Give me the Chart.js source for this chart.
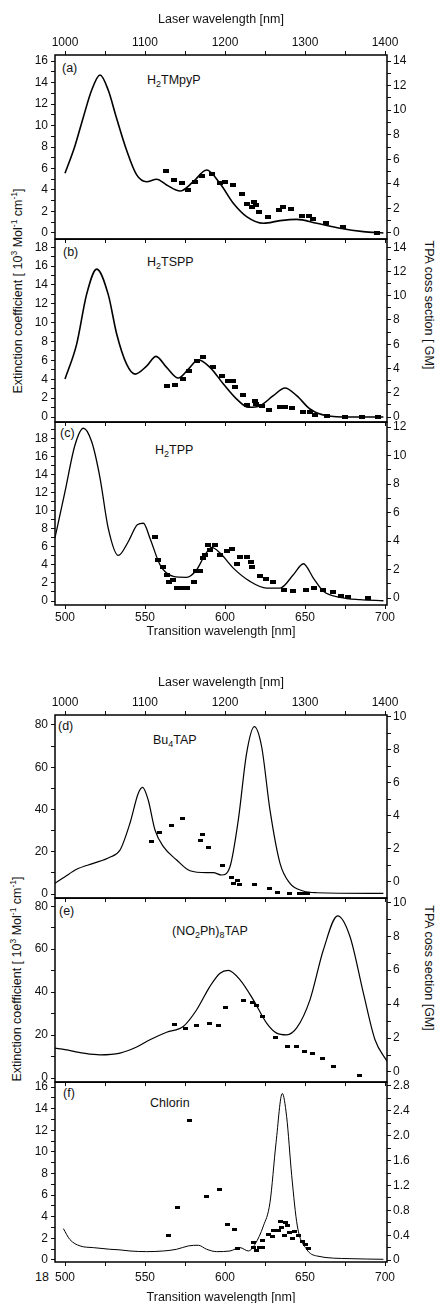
<!DOCTYPE html>
<html>
<head>
<meta charset="utf-8">
<script src="https://cdn.jsdelivr.net/npm/chart.js@4.4.1/dist/chart.umd.min.js"></script>
<style>
  body { margin: 0; background: #fff; }
  #page { position: relative; width: 435px; height: 1303px; overflow: hidden; background: #fff;
          font-family: 'Liberation Sans', Arial, sans-serif; color: #111; }
  #page canvas { position: absolute; left: 0; }
  .lbl { position: absolute; font-size: 12.5px; line-height: 14px; white-space: nowrap; }
  .lbl small { font-size: 9px; position: relative; top: 3px; }
  .rot { position: absolute; font-size: 12.5px; line-height: 14px; white-space: nowrap;
         transform: translate(-50%, -50%) rotate(-90deg); }
  .rot.cw { transform: translate(-50%, -50%) rotate(90deg); }
  .rot sup { font-size: 8.5px; vertical-align: 5px; line-height: 0; }
</style>
</head>
<body>
<div id="page">
  <div class="lbl" style="left:62px;top:61px">(a)</div>
  <div class="lbl" style="left:147px;top:73px">H<small>2</small>TMpyP</div>
  <div class="lbl" style="left:63px;top:245px">(b)</div>
  <div class="lbl" style="left:147px;top:255px">H<small>2</small>TSPP</div>
  <div class="lbl" style="left:60px;top:426px">(c)</div>
  <div class="lbl" style="left:155px;top:443px">H<small>2</small>TPP</div>
  <div class="lbl" style="left:58px;top:719px">(d)</div>
  <div class="lbl" style="left:153px;top:733px">Bu<small>4</small>TAP</div>
  <div class="lbl" style="left:59px;top:904px">(e)</div>
  <div class="lbl" style="left:172px;top:924px">(NO<small>2</small>Ph)<small>8</small>TAP</div>
  <div class="lbl" style="left:63px;top:1086px">(f)</div>
  <div class="lbl" style="left:150px;top:1096px">Chlorin</div>
  <div class="lbl" style="left:35px;top:1270px">18</div>

  <div class="rot" style="left:18px;top:291px">Extinction coefficient [ 10<sup>3</sup> Mol<sup>-1</sup> cm<sup>-1</sup>]</div>
  <div class="rot cw" style="left:429px;top:305px">TPA coss section [ GM]</div>
  <div class="rot" style="left:17px;top:979px">Extinction coefficient [ 10<sup>3</sup> Mol<sup>-1</sup> cm<sup>-1</sup>]</div>
  <div class="rot cw" style="left:429px;top:968px">TPA coss section [GM]</div>
</div>
<script>
// Absorption curves (transition wavelength in nm, extinction in 10^3 /Mol cm)
// and TPA points (same wavelength axis, cross section in GM)

// (a) H2TMpyP
const aLineX = [500, 506, 511.5, 516.7, 521.9, 527, 532, 538.5, 544.8, 551, 557.3, 563.5, 571.9, 580.2, 588.5, 596.9, 605.2, 613.5, 624, 634.4, 644.8, 657.3, 671.9, 686.4, 699];
const aLineY = [5.55, 8.0, 10.8, 13.3, 14.7, 13.3, 10.8, 7.7, 5.4, 4.77, 5.0, 4.47, 3.9, 4.77, 5.86, 4.6, 2.76, 1.52, 0.9, 1.15, 1.27, 0.9, 0.44, 0.13, 0.0];
const aDotX = [563.1, 568.3, 573.1, 577.1, 581.3, 585.6, 591.7, 596.9, 600, 605.2, 610.8, 613.5, 616.7, 618.3, 619.2, 621.5, 626.7, 634, 636.5, 641, 648, 652.5, 655.2, 663, 674, 694.8];
const aDotY = [5.05, 4.31, 4.04, 3.5, 4.17, 4.64, 4.78, 4.04, 4.13, 3.91, 3.17, 2.36, 2.09, 2.55, 2.28, 1.68, 1.28, 1.87, 2.14, 1.93, 1.41, 1.41, 1.11, 0.79, 0.51, 0.02];

// (b) H2TSPP
const bLineX = [500, 507.3, 513.5, 519.8, 527, 532.3, 538.5, 543.8, 551, 556.9, 563.5, 570.8, 577.1, 583.3, 590.6, 599, 607.3, 614.6, 621.9, 630.2, 637.5, 644.8, 653.1, 663.5, 678, 699];
const bLineY = [4.03, 7.73, 13.0, 15.68, 13.0, 8.8, 5.6, 4.55, 5.4, 6.43, 5.26, 4.13, 5.08, 6.07, 5.26, 3.5, 1.9, 1.03, 1.2, 2.26, 3.07, 2.26, 0.85, 0.14, 0.0, 0.0];
const bDotX = [563.5, 568.75, 574, 577.7, 582.3, 586.5, 592.3, 597.9, 602, 605.2, 606.25, 611.5, 614, 618.75, 619.4, 622.9, 627.5, 634.4, 637.5, 642, 648.5, 653.1, 656.25, 664, 675, 685.8, 695.8];
const bDotY = [2.58, 2.66, 3.1, 3.81, 4.64, 4.97, 4.09, 3.41, 2.94, 2.94, 2.44, 1.84, 1.01, 1.34, 1.07, 0.93, 0.58, 0.85, 0.8, 0.74, 0.39, 0.39, 0.16, 0.11, 0.0, 0.0, 0.0];

// (c) H2TPP
const cLineX = [493.75, 500, 506.25, 511.5, 516.7, 521.9, 527, 533.3, 539.6, 545.2, 549, 553.1, 559.4, 567.7, 576, 582.3, 587.5, 591.7, 596.9, 605.2, 615.6, 626, 634.4, 642.7, 649, 655.2, 661.5, 671.9, 684.4, 699];
const cLineY = [7.0, 12.1, 17.25, 19.1, 17.6, 13.6, 8.06, 5.04, 6.58, 8.42, 8.6, 6.95, 4.0, 2.72, 2.62, 3.46, 5.1, 5.93, 5.3, 3.64, 2.17, 1.43, 1.43, 2.9, 4.12, 2.54, 1.07, 0.41, 0.15, 0.03];
const cDotX = [556.25, 558.3, 561.4, 563.5, 565.2, 567.7, 569.8, 572.9, 576, 580.6, 581.7, 584.4, 586, 587.5, 589.6, 590.6, 593.75, 596.9, 601, 604.2, 607.3, 609.4, 613.5, 616.25, 617.1, 621.9, 625.6, 629.8, 637.1, 642.7, 650.4, 655.8, 661.5, 667.3, 672.5, 676.7, 689.6];
const cDotY = [4.28, 2.69, 2.15, 1.64, 1.1, 1.29, 0.7, 0.7, 0.7, 1.1, 1.87, 1.87, 2.81, 3.04, 3.74, 3.39, 3.74, 3.04, 3.27, 3.44, 2.41, 2.86, 2.86, 2.5, 2.18, 1.56, 1.33, 1.1, 0.54, 0.47, 0.54, 0.7, 0.54, 0.42, 0.12, 0.05, 0.0];

// (d) Bu4TAP
const dLineX = [493.75, 500, 507.3, 517.7, 528, 534.4, 540.6, 545.8, 548.5, 552, 556.25, 561.5, 569.8, 578.1, 588.5, 592.7, 597.9, 603.1, 608.3, 613.5, 618.3, 622.9, 628.1, 634.4, 640.6, 648.9, 657.3, 699];
const dLineY = [5.05, 8.2, 11.7, 14.5, 17.4, 20.8, 33.5, 47.7, 50.5, 44.5, 30.3, 22.4, 16.1, 11.0, 10.1, 10.1, 9.0, 12.9, 35.0, 66.6, 79.2, 69.7, 39.8, 14.5, 5.06, 1.4, 0.6, 0.3];
const dDotX = [554.2, 559, 566.25, 573.5, 584.8, 585.8, 589.6, 598.5, 604.2, 605.2, 607.9, 609, 618.3, 627.7, 632.7, 640.6, 646.5, 649.4, 651.7];
const dDotY = [2.44, 2.99, 3.41, 3.86, 2.5, 2.89, 2.1, 0.99, 0.28, -0.12, 0.08, -0.18, -0.14, -0.42, -0.63, -0.69, -0.69, -0.69, -0.69];

// (e) (NO2Ph)8TAP
const eLineX = [493.75, 500, 511.5, 521.9, 534.4, 544.8, 553.1, 563.5, 573.9, 582.3, 590.6, 596.9, 602, 609.4, 617.7, 626, 632.3, 638.5, 644.8, 653.1, 661.5, 670.4, 678.1, 686.5, 693.75, 701.25];
const eLineY = [13.95, 13.2, 11.6, 10.8, 11.6, 14.4, 17.8, 21.3, 24.0, 31.8, 42.7, 48.8, 50.1, 45.7, 36.4, 25.6, 20.9, 20.1, 23.3, 36.4, 59.7, 75.5, 65.9, 39.5, 17.8, 7.8];
const eDotX = [568.3, 575, 582.3, 590, 595.8, 600.4, 611.5, 617.1, 619.8, 623.5, 631.25, 638.9, 644.4, 649.4, 654.6, 660.8, 667.7, 684];
const eDotY = [2.82, 2.59, 2.73, 2.84, 2.73, 3.8, 4.22, 4.1, 3.9, 3.24, 2.04, 1.51, 1.51, 1.18, 1.08, 0.78, 0.33, -0.2];

// (f) Chlorin
const fLineX = [499, 503, 509.4, 517.7, 528, 534.4, 540.6, 551, 561.4, 569.8, 577.1, 583.3, 588.5, 594.8, 603.1, 609.4, 614.6, 618.75, 624, 628.1, 631.9, 635.8, 638.5, 641.7, 645.2, 651, 657.3, 678.1, 699];
const fLineY = [2.9, 1.9, 1.3, 1.14, 0.99, 0.93, 0.83, 0.77, 0.83, 0.99, 1.3, 1.36, 0.99, 0.77, 0.83, 1.14, 0.83, 1.45, 3.15, 5.3, 10.85, 15.42, 13.3, 7.8, 3.15, 0.99, 0.37, 0.12, 0.06];
const fDotX = [564.6, 570.2, 578.1, 588.5, 596.4, 601.7, 605.8, 607.9, 617.7, 618.1, 619.8, 621.5, 623.3, 623.5, 627.1, 629.8, 630.6, 633.3, 634.4, 635.4, 636.9, 637.7, 639.2, 640.2, 642.1, 643.3, 645.8, 648.3, 650, 652.1];
const fDotY = [0.39, 0.85, 2.25, 1.03, 1.13, 0.58, 0.5, 0.19, 0.28, 0.2, 0.16, 0.21, 0.2, 0.32, 0.41, 0.38, 0.47, 0.48, 0.62, 0.52, 0.4, 0.6, 0.55, 0.44, 0.35, 0.46, 0.4, 0.3, 0.25, 0.19];

// Shared wavelength range (laser axis = 2 x transition)
const xMin = 493.75;
const xMax = 701.25;

const ink = '#111';
const fontFamily = "'Liberation Sans', Arial, sans-serif";
const tickFont = { family: fontFamily, size: 12 };
const titleFont = { family: fontFamily, size: 12.5 };
const page = document.getElementById('page');

function pts(xs, ys) {
    return xs.map((x, i) => ({ x: x, y: ys[i] }));
}

// small black dash used as the TPA marker
function dash(w, h) {
    const c = document.createElement('canvas');
    c.width = w;
    c.height = h;
    const g = c.getContext('2d');
    g.fillStyle = '#000';
    g.fillRect(0, 0, w, h);
    return c;
}

// label only the major ticks, minor ones stay as bare tick marks
function majorOnly(major, fmt) {
    return function(v) {
        const r = v / major;
        return Math.abs(r - Math.round(r)) < 1e-6 ? fmt(v) : '';
    };
}

const tickGrid = { drawOnChartArea: false, drawTicks: true, tickLength: 4, color: ink, lineWidth: 1 };

// box around each panel
const frame = {
    id: 'frame',
    afterDraw(chart) {
        const { ctx, chartArea: a } = chart;
        ctx.save();
        ctx.strokeStyle = '#000';
        ctx.lineWidth = 1.5;
        ctx.strokeRect(a.left, a.top, a.right - a.left, a.bottom - a.top);
        ctx.restore();
    }
};

function makePanel(p) {
    const canvasTop = p.T - (p.top ? p.top.h : 10);
    const bottomH = p.bottom ? p.bottom.h : 5;
    const padBottom = p.bottom ? 0 : 8;
    const height = p.B - canvasTop + bottomH + padBottom;

    const canvas = document.createElement('canvas');
    canvas.width = 435;
    canvas.height = height;
    canvas.style.top = canvasTop + 'px';
    canvas.style.width = '435px';
    canvas.style.height = height + 'px';
    page.appendChild(canvas);

    const scales = {
        x: {
            type: 'linear', position: 'bottom', min: xMin, max: xMax,
            grid: tickGrid, border: { display: false },
            ticks: {
                display: !!p.bottom, stepSize: 25, includeBounds: false, autoSkip: false, maxRotation: 0,
                padding: p.bottom ? p.bottom.pad : 0, font: tickFont, color: ink,
                callback: majorOnly(50, v => String(v))
            },
            title: p.bottom
                ? { display: true, text: 'Transition wavelength [nm]', font: titleFont, color: ink, padding: { top: 0, bottom: p.bottom.titlePad } }
                : { display: false },
            afterFit: s => { s.height = bottomH; }
        },
        y: {
            type: 'linear', position: 'left', min: p.y.min, max: p.y.max,
            grid: tickGrid, border: { display: false },
            ticks: {
                stepSize: p.y.step, includeBounds: false, autoSkip: false, padding: 3,
                font: tickFont, color: ink, callback: majorOnly(p.y.major, v => String(v))
            },
            afterFit: s => { s.width = 55; }
        },
        y2: {
            type: 'linear', position: 'right', min: p.y2.min, max: p.y2.max,
            grid: tickGrid, border: { display: false },
            ticks: {
                stepSize: p.y2.step, includeBounds: false, autoSkip: false, padding: 2,
                font: tickFont, color: ink, callback: majorOnly(p.y2.major, p.y2.fmt || (v => String(v)))
            },
            afterFit: s => { s.width = 48; }
        }
    };

    if (p.top) {
        scales.x2 = {
            type: 'linear', position: 'top', min: 2 * xMin, max: 2 * xMax,
            grid: tickGrid, border: { display: false },
            ticks: {
                stepSize: 50, includeBounds: false, autoSkip: false, maxRotation: 0,
                padding: p.top.pad, font: tickFont, color: ink,
                callback: majorOnly(100, v => String(v))
            },
            title: { display: true, text: 'Laser wavelength [nm]', font: titleFont, color: ink, padding: { top: p.top.titlePad, bottom: 0 } },
            afterFit: s => { s.height = p.top.h; }
        };
    }

    return new Chart(canvas.getContext('2d'), {
        type: 'scatter',
        data: {
            datasets: [{
                data: pts(p.lineX, p.lineY),
                yAxisID: 'y',
                showLine: true,
                borderColor: '#000',
                borderWidth: p.lineWidth,
                pointRadius: 0,
                cubicInterpolationMode: 'monotone'
            }, {
                data: pts(p.dotX, p.dotY),
                yAxisID: 'y2',
                showLine: false,
                pointStyle: p.marker,
                pointRadius: 3
            }]
        },
        options: {
            responsive: false,
            devicePixelRatio: 1,
            animation: false,
            events: [],
            layout: { padding: { top: p.top ? 0 : 10, bottom: padBottom, left: 0, right: 0 } },
            plugins: { legend: { display: false }, tooltip: { enabled: false } },
            scales: scales
        },
        plugins: [frame]
    });
}

const bigDash = dash(6, 4);
const smallDash = dash(5, 3);

makePanel({
    T: 55, B: 239, top: { h: 55, pad: 1, titlePad: 12 },
    y: { min: -0.56, max: 16.56, step: 1, major: 2 },
    y2: { min: -0.49, max: 14.49, step: 1, major: 2 },
    lineX: aLineX, lineY: aLineY, dotX: aDotX, dotY: aDotY, lineWidth: 1.6, marker: bigDash
});

makePanel({
    T: 239, B: 422,
    y: { min: -0.53, max: 18.85, step: 1, major: 2 },
    y2: { min: -0.41, max: 14.66, step: 1, major: 2 },
    lineX: bLineX, lineY: bLineY, dotX: bDotX, dotY: bDotY, lineWidth: 1.6, marker: bigDash
});

makePanel({
    T: 422, B: 605, bottom: { h: 36, pad: 1, titlePad: 1.5 },
    y: { min: -0.44, max: 19.77, step: 1, major: 2 },
    y2: { min: -0.49, max: 12.35, step: 1, major: 2 },
    lineX: cLineX, lineY: cLineY, dotX: cDotX, dotY: cDotY, lineWidth: 1.3, marker: bigDash
});

makePanel({
    T: 715, B: 898, top: { h: 55, pad: 1, titlePad: 15 },
    y: { min: -1.89, max: 84.73, step: 10, major: 20 },
    y2: { min: -0.97, max: 10.12, step: 1, major: 2 },
    lineX: dLineX, lineY: dLineY, dotX: dDotX, dotY: dDotY, lineWidth: 1.2, marker: smallDash
});

makePanel({
    T: 898, B: 1082,
    y: { min: -1.86, max: 83.72, step: 10, major: 20 },
    y2: { min: -0.59, max: 10.24, step: 1, major: 2 },
    lineX: eLineX, lineY: eLineY, dotX: eDotX, dotY: eDotY, lineWidth: 1.2, marker: smallDash
});

makePanel({
    T: 1082, B: 1262, bottom: { h: 45, pad: 4, titlePad: 2.2 },
    y: { min: -0.19, max: 16.46, step: 1, major: 2 },
    y2: { min: -0.03, max: 2.86, step: 0.2, major: 0.4, fmt: v => (v === 0 ? '0' : v.toFixed(1)) },
    lineX: fLineX, lineY: fLineY, dotX: fDotX, dotY: fDotY, lineWidth: 1, marker: smallDash
});
</script>
</body>
</html>
